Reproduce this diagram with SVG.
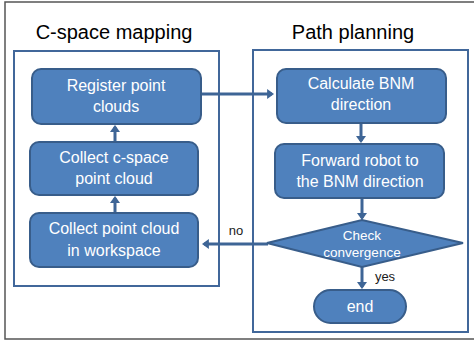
<svg xmlns="http://www.w3.org/2000/svg" width="474" height="341" viewBox="0 0 474 341">
<style>
.node{fill:#4F81BD;stroke:#385D8A;stroke-width:2}
.panel{fill:#FFFFFF;stroke:#41679A;stroke-width:2}
.t{font-family:"Liberation Sans",Arial,sans-serif;font-size:16px;fill:#FFFFFF;text-anchor:middle}
.title{font-family:"Liberation Sans",Arial,sans-serif;font-size:20px;fill:#000000;text-anchor:middle}
.lbl{font-family:"Liberation Sans",Arial,sans-serif;font-size:13px;fill:#1a1a1a;text-anchor:middle}
.conn{stroke:#3E6596;stroke-width:3;fill:none;marker-end:url(#ah)}
</style>
<defs>
<marker id="ah" markerUnits="userSpaceOnUse" markerWidth="7" markerHeight="10" refX="4.9" refY="5" orient="auto">
<path d="M0,0 L7,5 L0,10 z" fill="#3E6596"/>
</marker>
</defs>
<rect x="0" y="0" width="474" height="341" fill="#FFFFFF"/>
<rect x="5" y="2" width="480" height="337" fill="none" stroke="#555555" stroke-width="1.5"/>
<g id="panel-cspace">
<rect class="panel" x="14" y="51" width="205" height="235"/>
<text class="title" x="114" y="39">C-space mapping</text>
</g>
<g id="panel-path">
<rect class="panel" x="253" y="50" width="215" height="282"/>
<text class="title" x="353" y="39">Path planning</text>
</g>
<g id="connectors">
<path class="conn" d="M115,142 L115,127"/>
<path class="conn" d="M115,213 L115,198"/>
<path class="conn" d="M201,94 L272,94"/>
<path class="conn" d="M361,123 L361,141"/>
<path class="conn" d="M362,198 L362,218"/>
<path class="conn" d="M362,267 L362,287"/>
<path class="conn" d="M268,244 L204,244"/>
<text class="lbl" x="236" y="235">no</text>
<text class="lbl" x="385" y="281">yes</text>
</g>
<g id="register">
<rect class="node" x="32" y="69" width="169" height="55" rx="9"/>
<text class="t" x="116" y="91">Register point</text>
<text class="t" x="116" y="112">clouds</text>
</g>
<g id="collect-cspace">
<rect class="node" x="30" y="142" width="168" height="53" rx="9"/>
<text class="t" x="114" y="163">Collect c-space</text>
<text class="t" x="114" y="184">point cloud</text>
</g>
<g id="collect-workspace">
<rect class="node" x="30" y="213" width="168" height="54" rx="9"/>
<text class="t" x="114" y="234">Collect point cloud</text>
<text class="t" x="114" y="256">in workspace</text>
</g>
<g id="calculate">
<rect class="node" x="277" y="69" width="169" height="54" rx="9"/>
<text class="t" x="361" y="89">Calculate BNM</text>
<text class="t" x="361" y="110">direction</text>
</g>
<g id="forward">
<rect class="node" x="275" y="144" width="169" height="54" rx="9"/>
<text class="t" x="360" y="166">Forward robot to</text>
<text class="t" x="360" y="187">the BNM direction</text>
</g>
<g id="check">
<polygon class="node" points="267,243 362,220 463,243 362,267"/>
<text class="t" style="font-size:13.5px" x="362" y="240">Check</text>
<text class="t" style="font-size:13.5px" x="362" y="257">convergence</text>
</g>
<g id="end">
<rect class="node" x="314" y="290" width="92" height="33" rx="16.5"/>
<text class="t" x="360" y="312">end</text>
</g>
</svg>
